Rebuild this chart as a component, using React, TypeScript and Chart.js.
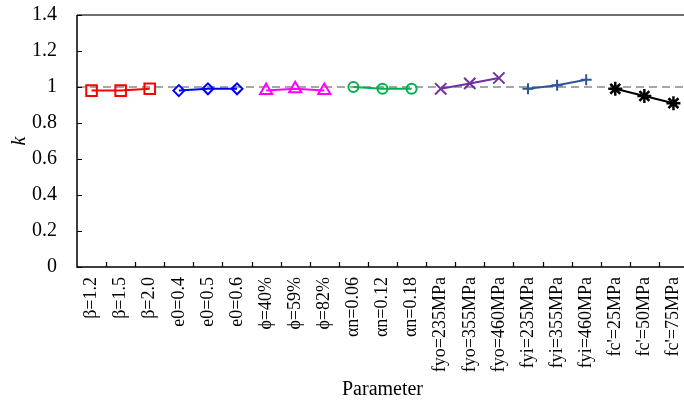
import React, { useEffect, useRef } from "react";
import { Chart, registerables } from "chart.js";

Chart.register(...registerables);

const categories = [
  "β=1.2", "β=1.5", "β=2.0",
  "e0=0.4", "e0=0.5", "e0=0.6",
  "ϕ=40%", "ϕ=59%", "ϕ=82%",
  "αn=0.06", "αn=0.12", "αn=0.18",
  "fyo=235MPa", "fyo=355MPa", "fyo=460MPa",
  "fyi=235MPa", "fyi=355MPa", "fyi=460MPa",
  "fc'=25MPa", "fc'=50MPa", "fc'=75MPa",
];

const betaValues = [0.98, 0.98, 0.99];
const e0Values = [0.98, 0.99, 0.99];
const phiValues = [0.98, 0.99, 0.98];
const alphaNValues = [1.0, 0.99, 0.99];
const fyoValues = [0.99, 1.02, 1.05];
const fyiValues = [0.99, 1.01, 1.04];
const fcValues = [0.99, 0.95, 0.91];

const yTickValues = [0, 0.2, 0.4, 0.6, 0.8, 1, 1.2, 1.4];
const referenceValue = 1;

const FONT = "'Liberation Serif', 'Times New Roman', serif";

const seriesDefs = [
  { name: "beta", values: betaValues, start: 0, color: "#ff0000", style: "rect", radius: 7.5 },
  { name: "e0", values: e0Values, start: 3, color: "#0000ff", style: "rectRot", radius: 5.5 },
  { name: "phi", values: phiValues, start: 6, color: "#ff00ff", style: "triangle", radius: 7 },
  { name: "alphaN", values: alphaNValues, start: 9, color: "#00b050", style: "circle", radius: 5 },
  { name: "fyo", values: fyoValues, start: 12, color: "#7030a0", style: "crossRot", radius: 8 },
  { name: "fyi", values: fyiValues, start: 15, color: "#2f5597", style: "cross", radius: 5.5 },
  { name: "fc", values: fcValues, start: 18, color: "#000000", style: "star", radius: 7 },
];

const framePlugin = {
  id: "frame",
  beforeDatasetsDraw(chart: any) {
    const { ctx, chartArea } = chart;
    const y = chart.scales.y.getPixelForValue(referenceValue);
    ctx.save();
    ctx.strokeStyle = "#a6a6a6";
    ctx.lineWidth = 2;
    ctx.setLineDash([8, 5]);
    ctx.beginPath();
    ctx.moveTo(chartArea.left, y);
    ctx.lineTo(chartArea.right, y);
    ctx.stroke();
    ctx.restore();
  },
  afterDraw(chart: any) {
    const { ctx, chartArea } = chart;
    const { left, right, top, bottom } = chartArea;
    const xs = chart.scales.x;
    const ys = chart.scales.y;
    ctx.save();
    ctx.strokeStyle = "#000";
    ctx.lineWidth = 1.5;
    ctx.beginPath();
    ctx.moveTo(left, top);
    ctx.lineTo(left, bottom);
    ctx.lineTo(right, bottom);
    ctx.stroke();
    ctx.strokeStyle = "#404040";
    ctx.beginPath();
    ctx.moveTo(left, top);
    ctx.lineTo(right, top);
    ctx.stroke();
    ctx.strokeStyle = "#000";
    ctx.lineWidth = 1.2;
    ctx.beginPath();
    yTickValues.forEach((v) => {
      const py = Math.round(ys.getPixelForValue(v)) + 0.5;
      ctx.moveTo(left, py);
      ctx.lineTo(left + 5, py);
    });
    for (let i = 1; i < categories.length; i++) {
      const px = Math.round((xs.getPixelForValue(i - 1) + xs.getPixelForValue(i)) / 2) + 0.5;
      ctx.moveTo(px, bottom);
      ctx.lineTo(px, bottom - 5);
    }
    ctx.stroke();
    ctx.restore();
  },
};

export default function App() {
  const canvasRef = useRef<HTMLCanvasElement | null>(null);

  useEffect(() => {
    if (!canvasRef.current) return;
    const datasets = seriesDefs.map((s) => {
      const data: (number | null)[] = categories.map(() => null);
      s.values.forEach((v, i) => {
        data[s.start + i] = v;
      });
      return {
        label: s.name,
        data,
        borderColor: s.color,
        backgroundColor: "rgba(255,255,255,0)",
        pointBorderColor: s.color,
        pointBackgroundColor: "rgba(255,255,255,0)",
        pointStyle: s.style,
        pointRadius: s.radius,
        pointBorderWidth: s.style === "star" ? 2.5 : 2,
        borderWidth: 2,
        spanGaps: false,
        fill: false,
        tension: 0,
      };
    });

    const chart = new Chart(canvasRef.current, {
      type: "line",
      data: { labels: categories, datasets: datasets as any },
      plugins: [framePlugin],
      options: {
        animation: false,
        responsive: false,
        devicePixelRatio: 1,
        layout: { padding: { top: 15, right: 12, left: 0, bottom: 0 } },
        plugins: { legend: { display: false }, tooltip: { enabled: false } },
        scales: {
          x: {
            type: "category",
            offset: true,
            grid: { display: false, drawTicks: false },
            border: { display: false },
            ticks: {
              autoSkip: false,
              maxRotation: 90,
              minRotation: 90,
              padding: 10,
              color: "#000",
              font: { family: FONT, size: 18 },
            },
            title: {
              display: true,
              text: "Parameter",
              color: "#000",
              font: { family: FONT, size: 20 },
              padding: { top: 0, bottom: 4 },
            },
            afterFit: (s: any) => {
              s.height = 139;
              s.paddingLeft = 0;
              s.paddingRight = 0;
            },
          },
          y: {
            min: 0,
            max: 1.4,
            grid: { display: false, drawTicks: false },
            border: { display: false },
            afterBuildTicks: (s: any) => {
              s.ticks = yTickValues.map((v) => ({ value: v }));
            },
            ticks: {
              padding: 20,
              color: "#000",
              font: { family: FONT, size: 20 },
              callback: (v: any) => String(Number(Number(v).toFixed(1))),
            },
            title: {
              display: true,
              text: "k",
              color: "#000",
              font: { family: FONT, size: 20, style: "italic" },
              padding: { top: 8, bottom: 0 },
            },
            afterFit: (s: any) => {
              s.width = 77;
              s.paddingTop = 0;
              s.paddingBottom = 0;
            },
          },
        },
      } as any,
    });
    return () => chart.destroy();
  }, []);

  return (
    <div
      style={{
        position: "fixed",
        left: 0,
        top: 0,
        width: 684,
        height: 406,
        overflow: "hidden",
        background: "#fff",
      }}
    >
      <canvas
        ref={canvasRef}
        width={700}
        height={406}
        style={{ display: "block", width: 700, height: 406 }}
      />
    </div>
  );
}
